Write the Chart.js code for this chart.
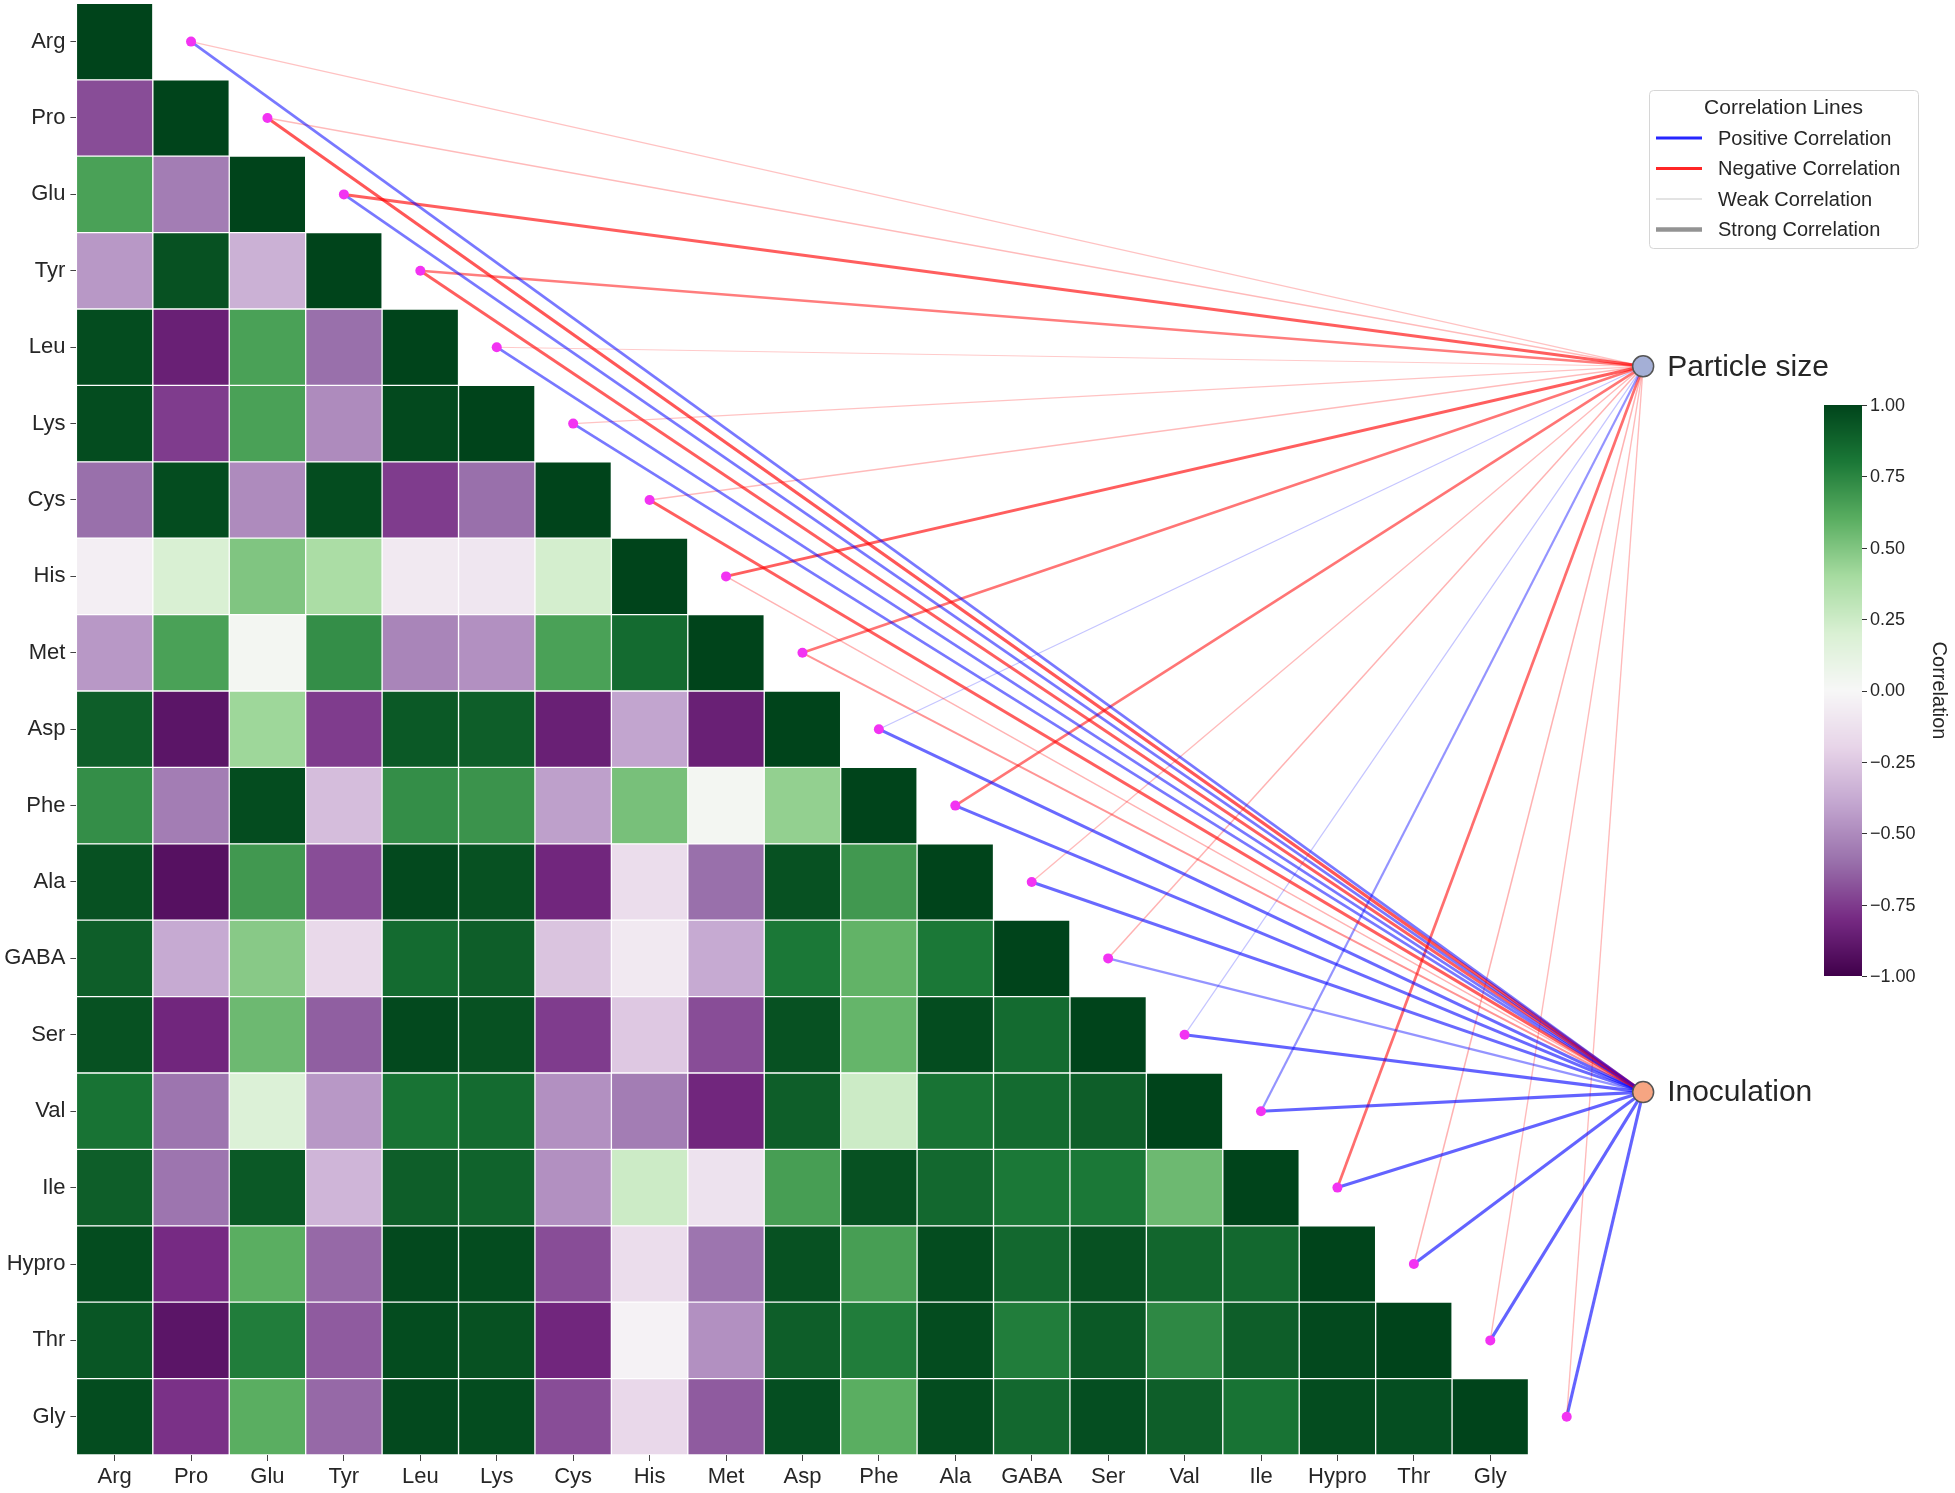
<!DOCTYPE html>
<html>
<head>
<meta charset="utf-8">
<script src="https://cdn.jsdelivr.net/npm/chart.js@4.4.1/dist/chart.umd.min.js"></script>
<style>
  html, body { margin: 0; padding: 0; background: #fff; }
  #wrap { width: 1955px; height: 1493px; }
</style>
</head>
<body>
<div id="wrap"><canvas id="c" width="1955" height="1493"></canvas></div>
<script>
'use strict';

const names = ['Arg', 'Pro', 'Glu', 'Tyr', 'Leu', 'Lys', 'Cys', 'His', 'Met', 'Asp',
    'Phe', 'Ala', 'GABA', 'Ser', 'Val', 'Ile', 'Hypro', 'Thr', 'Gly'];

// lower triangle of the correlation matrix, one row per amino acid (diagonal = 1)
const rows = [
    [],
    [-0.70],
    [0.65, -0.55],
    [-0.45, 0.95, -0.35],
    [0.97, -0.85, 0.65, -0.60],
    [0.97, -0.75, 0.65, -0.50, 0.98],
    [-0.60, 0.97, -0.50, 0.97, -0.75, -0.60],
    [-0.05, 0.20, 0.50, 0.38, -0.08, -0.10, 0.22],
    [-0.45, 0.65, 0.03, 0.72, -0.52, -0.48, 0.65, 0.85],
    [0.90, -0.90, 0.42, -0.75, 0.92, 0.90, -0.85, -0.40, -0.85],
    [0.72, -0.55, 0.97, -0.30, 0.72, 0.70, -0.42, 0.52, 0.03, 0.45],
    [0.95, -0.92, 0.68, -0.70, 0.98, 0.95, -0.82, -0.15, -0.60, 0.95, 0.68],
    [0.90, -0.38, 0.48, -0.17, 0.85, 0.90, -0.27, -0.08, -0.38, 0.80, 0.58, 0.80],
    [0.95, -0.82, 0.55, -0.65, 0.98, 0.95, -0.75, -0.25, -0.70, 0.95, 0.57, 0.97, 0.85],
    [0.82, -0.58, 0.18, -0.45, 0.82, 0.85, -0.48, -0.55, -0.82, 0.90, 0.25, 0.82, 0.85, 0.90],
    [0.90, -0.58, 0.92, -0.33, 0.90, 0.88, -0.48, 0.25, -0.12, 0.66, 0.95, 0.86, 0.80, 0.80, 0.55],
    [0.97, -0.80, 0.60, -0.62, 0.98, 0.97, -0.70, -0.15, -0.58, 0.95, 0.66, 0.97, 0.86, 0.95, 0.87, 0.86],
    [0.93, -0.90, 0.78, -0.66, 0.97, 0.95, -0.82, -0.03, -0.48, 0.90, 0.78, 0.97, 0.78, 0.92, 0.74, 0.90, 0.98],
    [0.97, -0.78, 0.60, -0.62, 0.98, 0.97, -0.70, -0.18, -0.66, 0.96, 0.60, 0.97, 0.86, 0.96, 0.90, 0.82, 0.97, 0.96]
];

// correlation of each amino acid with the two factors
const particleSize = [-0.20, -0.25, -0.85, -0.65, -0.15, -0.20, -0.25, -0.85, -0.70, 0.20,
    -0.70, -0.25, -0.30, 0.20, 0.55, -0.75, -0.30, -0.25, -0.25];
const inoculation = [0.75, -0.90, 0.75, -0.85, 0.75, 0.75, -0.85, -0.30, -0.50, 0.85,
    0.85, 0.85, 0.55, 0.90, 0.90, 0.90, 0.90, 0.90, 0.90];

const factorNames = ['Particle size', 'Inoculation'];
const factorValues = [particleSize, inoculation];
const cbarTicks = [1, 0.75, 0.5, 0.25, 0, -0.25, -0.5, -0.75, -1];

// layout (cell units)
const n = names.length;
const nodeX = n + 1.5;
const nodeY = [n * 0.25, n * 0.75];
const nodeFill = ['#a4afd6', '#f6a582'];

// PRGn colormap
const PRGN = ['#40004b', '#762a83', '#9970ab', '#c2a5cf', '#e7d4e8', '#f7f7f7',
    '#d9f0d3', '#a6dba0', '#5aae61', '#1b7837', '#00441b'].map(h => [
    parseInt(h.slice(1, 3), 16), parseInt(h.slice(3, 5), 16), parseInt(h.slice(5, 7), 16)]);

const prgn = function (v) {
    let t = Math.max(0, Math.min(1, (v + 1) / 2)) * (PRGN.length - 1);
    let i = Math.min(PRGN.length - 2, Math.floor(t));
    let f = t - i;
    let c = PRGN[i].map((a, k) => Math.round(a + (PRGN[i + 1][k] - a) * f));
    return 'rgb(' + c.join(',') + ')';
};

const lineStyle = function (r) {
    let a = Math.abs(r);
    return {
        color: r > 0 ? 'rgba(0,0,255,' + (0.12 + 0.55 * a).toFixed(2) + ')'
                     : 'rgba(255,0,0,' + (0.12 + 0.6 * a).toFixed(2) + ')',
        width: 0.7 + 2.7 * a
    };
};

// build datasets
let cells = [];
rows.forEach((row, i) => {
    for (let j = 0; j <= i; j++) {
        cells.push({ x: j + 0.5, y: [i, i + 1], v: j === i ? 1 : row[j] });
    }
});

let datasets = [];
datasets.push({
    type: 'scatter',
    data: factorNames.map((f, k) => ({ x: nodeX, y: nodeY[k] })),
    pointRadius: 10.5,
    pointBackgroundColor: nodeFill,
    pointBorderColor: '#555',
    pointBorderWidth: 1.5,
    order: 0
});
datasets.push({
    type: 'scatter',
    data: names.map((nm, i) => ({ x: i + 1.5, y: i + 0.5 })),
    pointRadius: 5,
    pointBackgroundColor: '#f233f2',
    pointBorderWidth: 0,
    order: 1
});
names.forEach((nm, i) => {
    factorValues.forEach((vals, k) => {
        let st = lineStyle(vals[i]);
        datasets.push({
            type: 'scatter',
            showLine: true,
            data: [{ x: i + 1.5, y: i + 0.5 }, { x: nodeX, y: nodeY[k] }],
            borderColor: st.color,
            borderWidth: st.width,
            pointRadius: 0,
            order: 2
        });
    });
});
datasets.push({
    type: 'bar',
    data: cells,
    backgroundColor: ctx => (ctx.raw ? prgn(ctx.raw.v) : '#fff'),
    borderColor: 'rgba(255,255,255,0.85)',
    borderWidth: 1,
    borderSkipped: false,
    barPercentage: 1,
    categoryPercentage: 1,
    order: 3
});

const TXT = '#262626';
const FONT = "'Liberation Sans', Arial, sans-serif";

// node labels, legend and colorbar
const extras = {
    id: 'extras',
    afterDraw(chart) {
        const ctx = chart.ctx;
        const xs = chart.scales.x, ys = chart.scales.y;
        ctx.save();

        // factor labels
        ctx.fillStyle = TXT;
        ctx.font = '30px ' + FONT;
        ctx.textBaseline = 'middle';
        ctx.textAlign = 'left';
        factorNames.forEach((f, k) => {
            ctx.fillText(f, xs.getPixelForValue(nodeX) + 24, ys.getPixelForValue(nodeY[k]) + 1);
        });

        // legend
        const lx = 1649, ly = 90, lw = 269, lh = 158;
        ctx.fillStyle = 'rgba(255,255,255,0.8)';
        ctx.strokeStyle = '#d6d6d6';
        ctx.lineWidth = 1;
        ctx.beginPath();
        ctx.roundRect(lx + 0.5, ly + 0.5, lw, lh, 4);
        ctx.fill();
        ctx.stroke();
        ctx.fillStyle = TXT;
        ctx.textAlign = 'center';
        ctx.font = '21px ' + FONT;
        ctx.fillText('Correlation Lines', lx + lw / 2, ly + 18);
        const entries = [
            ['Positive Correlation', 'rgba(0,0,255,0.85)', 3],
            ['Negative Correlation', 'rgba(255,0,0,0.85)', 3],
            ['Weak Correlation', 'rgba(128,128,128,0.45)', 1],
            ['Strong Correlation', 'rgba(128,128,128,0.85)', 4.5]
        ];
        ctx.textAlign = 'left';
        ctx.font = '20px ' + FONT;
        entries.forEach((e, i) => {
            let y = ly + 48 + i * 30.5;
            ctx.strokeStyle = e[1];
            ctx.lineWidth = e[2];
            ctx.beginPath();
            ctx.moveTo(lx + 7, y);
            ctx.lineTo(lx + 53, y);
            ctx.stroke();
            ctx.fillStyle = TXT;
            ctx.fillText(e[0], lx + 69, y + 1);
        });

        // colorbar
        const cx0 = 1824, cx1 = 1862, cy0 = 405, cy1 = 976;
        for (let y = cy0; y < cy1; y++) {
            ctx.fillStyle = prgn(1 - 2 * (y + 0.5 - cy0) / (cy1 - cy0));
            ctx.fillRect(cx0, y, cx1 - cx0, 1);
        }
        ctx.strokeStyle = '#333';
        ctx.lineWidth = 1;
        ctx.fillStyle = TXT;
        ctx.font = '18px ' + FONT;
        cbarTicks.forEach(t => {
            let y = cy0 + (1 - t) / 2 * (cy1 - cy0);
            ctx.beginPath();
            ctx.moveTo(cx1, Math.round(y) + 0.5);
            ctx.lineTo(cx1 + 5, Math.round(y) + 0.5);
            ctx.stroke();
            ctx.fillText(t.toFixed(2).replace('-', '\u2212'), cx1 + 8, y + 1);
        });
        ctx.translate(1939, (cy0 + cy1) / 2);
        ctx.rotate(Math.PI / 2);
        ctx.textAlign = 'center';
        ctx.font = '20px ' + FONT;
        ctx.fillText('Correlation', 0, 0);
        ctx.restore();
    }
};

const cell = (1528.5 - 76.4) / n;
const xMax = 22;

const axisTicks = scale => {
    scale.ticks = names.map((nm, i) => ({ value: i + 0.5 }));
};
// fixed axis sizes, no extra padding for the end labels
const noPad = s => {
    s.paddingTop = 0;
    s.paddingBottom = 0;
    s.paddingLeft = 0;
    s.paddingRight = 0;
};

new Chart(document.getElementById('c'), {
    type: 'scatter',
    data: { datasets: datasets },
    options: {
        responsive: false,
        animation: false,
        devicePixelRatio: 1,
        layout: {
            autoPadding: false,
            padding: { left: 0, top: 3.4, right: 1955 - 76.4 - xMax * cell, bottom: 0 }
        },
        plugins: { legend: { display: false }, tooltip: { enabled: false } },
        events: [],
        scales: {
            x: {
                type: 'linear', min: 0, max: xMax, offset: false,
                afterBuildTicks: axisTicks,
                afterFit: s => { s.height = 38; noPad(s); },
                grid: { display: true, offset: false, drawOnChartArea: false, drawTicks: true,
                    tickLength: 6, tickColor: '#444', tickWidth: 1 },
                border: { display: false },
                ticks: { autoSkip: false, maxRotation: 0, padding: 3, color: TXT,
                    font: { family: FONT, size: 22 }, callback: (v, i) => names[i] }
            },
            y: {
                type: 'linear', min: 0, max: n, reverse: true, offset: false,
                afterBuildTicks: axisTicks,
                afterFit: s => { s.width = 76.4; noPad(s); },
                grid: { display: true, offset: false, drawOnChartArea: false, drawTicks: true,
                    tickLength: 6, tickColor: '#444', tickWidth: 1 },
                border: { display: false },
                ticks: { autoSkip: false, padding: 5, color: TXT,
                    font: { family: FONT, size: 22 }, callback: (v, i) => names[i] }
            }
        }
    },
    plugins: [extras]
});
</script>
</body>
</html>
